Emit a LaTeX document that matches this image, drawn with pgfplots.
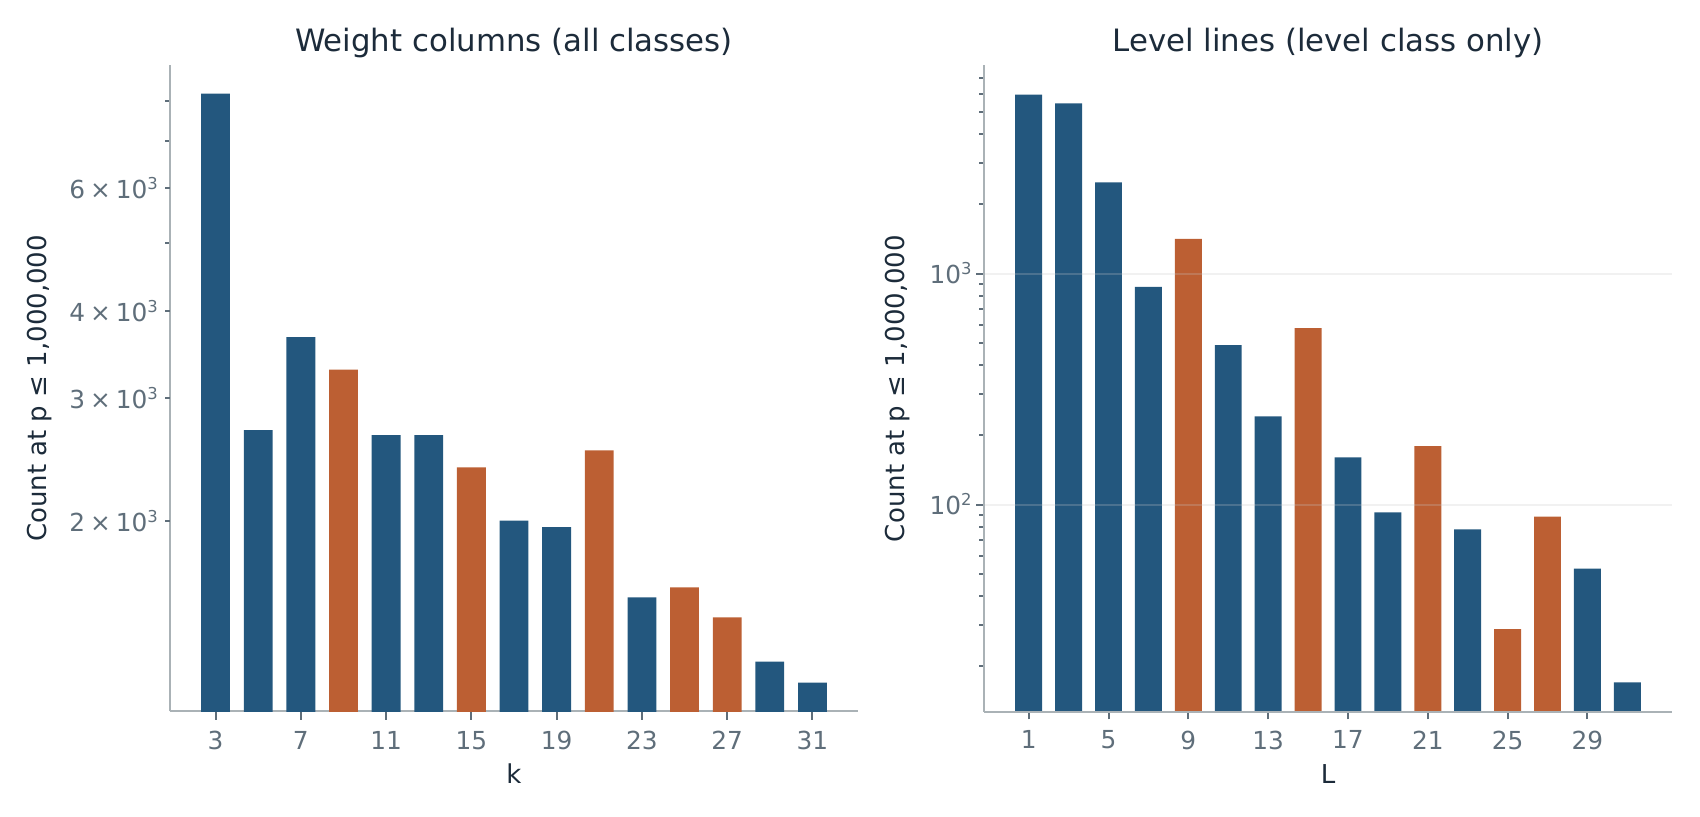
\documentclass[border=0pt]{standalone}
\usepackage{fontspec}
\setmainfont{DejaVu Sans}
\usepackage{pgfplots}
\usepackage{pgfplotstable}
\pgfplotsset{compat=1.18}
\definecolor{barblue}{RGB}{35,87,126}
\definecolor{barorange}{RGB}{188,95,51}
\definecolor{spinecol}{RGB}{170,178,182}
\definecolor{tickcol}{RGB}{95,110,122}
\definecolor{textcol}{RGB}{28,43,58}
\newcommand{\tl}{\fontsize{12.4}{14}\selectfont}
\newcommand{\supr}[1]{\raisebox{4.5pt}{\fontsize{8.2}{9}\selectfont #1}}
\newcommand{\sci}[1]{#1\hspace{0.2em}×\hspace{0.2em}10\supr{3}}
\pgfplotstableread{
x y
3 8195
5 2700
7 3670
11 2655
13 2655
17 2002
19 1960
23 1555
29 1258
31 1174
}\leftblue
\pgfplotstableread{
x y
9 3295
15 2388
21 2525
25 1607
27 1456
}\leftorange
\pgfplotstableread{
x y
1 5950
3 5450
5 2480
7 875
11 490
13 241
17 160
19 92.4
23 78
29 52.8
31 17
}\rightblue
\pgfplotstableread{
x y
9 1414
15 580
21 179
25 28.9
27 88.6
}\rightorange
\begin{document}
\begin{tikzpicture}
\useasboundingbox (0,0) rectangle (850pt,408pt);
\begin{axis}[ymode=log, ybar,
  /pgf/number format/assume math mode=true,
  scale only axis, width=344pt, height=323pt, anchor=south west,
  at={(85pt,52.25pt)},
  axis x line=bottom, axis y line=left,
  axis line style={-, spinecol, line width=1pt},
  tick align=outside, major tick length=2.3pt, minor tick length=2.3pt,
  tick style={tickcol, line width=1pt},
  ticklabel style={font=\tl, text=tickcol},
  xticklabel style={anchor=north, inner sep=0pt, yshift=-5.4pt},
  yticklabel style={anchor=east, inner sep=0pt, xshift=-3.6pt},
  ylabel style={font=\fontsize{13}{15}\selectfont, text=textcol, anchor=center, at={(axis description cs:-0.189,0.5)}},
  xlabel style={font=\fontsize{13}{15}\selectfont, text=textcol, anchor=center, at={(axis description cs:0.5,-0.0967)}},
  title style={font=\fontsize{15.4}{18}\selectfont, text=textcol, anchor=center, at={(axis description cs:0.5,1.0155)}},
  bar width=1.35, enlargelimits=false,
  xmin=0.86, xmax=33.14, ymin=1067, ymax=8990,
  xtick=\empty,
  extra x ticks={3,7,...,31},
  extra x tick style={major tick length=4.2pt, xmajorgrids=false},
  ytick={5000,7000,8000},
  yticklabels={},
  extra y ticks={2000,3000,4000,6000},
  extra y tick labels={\sci{2},\sci{3},\sci{4},\sci{6}},
  extra y tick style={major tick length=2.3pt, ymajorgrids=false},
  title={Weight columns (all classes)},
  xlabel={k},
  ylabel={Count at p ≤ 1,000,000},
]
\addplot[fill=barblue, draw=none, bar shift=0pt] table[x=x,y=y] {\leftblue};
\addplot[fill=barorange, draw=none, bar shift=0pt] table[x=x,y=y] {\leftorange};
\end{axis}
\begin{axis}[ymode=log, ybar,
  /pgf/number format/assume math mode=true,
  scale only axis, width=344pt, height=323pt, anchor=south west,
  at={(492pt,52.25pt)}, axis on top,
  axis x line=bottom, axis y line=left,
  axis line style={-, spinecol, line width=1pt},
  tick align=outside, major tick length=4pt, minor tick length=2.3pt,
  tick style={tickcol, line width=1pt},
  ticklabel style={font=\tl, text=tickcol},
  xticklabel style={anchor=north, inner sep=0pt, yshift=-5.4pt},
  yticklabel style={anchor=east, inner sep=0pt, xshift=-2pt},
  ylabel style={font=\fontsize{13}{15}\selectfont, text=textcol, anchor=center, at={(axis description cs:-0.125,0.5)}},
  xlabel style={font=\fontsize{13}{15}\selectfont, text=textcol, anchor=center, at={(axis description cs:0.5,-0.0967)}},
  title style={font=\fontsize{15.4}{18}\selectfont, text=textcol, anchor=center, at={(axis description cs:0.5,1.0155)}},
  bar width=1.35, enlargelimits=false,
  xmin=-1.24, xmax=33.24, ymin=12.7, ymax=7960,
  xtick={1,5,...,29},
  ytick={100,1000},
  yticklabels={10\supr{2},10\supr{3}},
  minor ytick={20,30,40,50,60,70,80,90,200,300,400,500,600,700,800,900,2000,3000,4000,5000,6000,7000},
  ymajorgrids, major grid style={color=gray!45, opacity=0.25, line width=1pt},
  title={Level lines (level class only)},
  xlabel={L},
  ylabel={Count at p ≤ 1,000,000},
]
\addplot[fill=barblue, draw=none, bar shift=0pt] table[x=x,y=y] {\rightblue};
\addplot[fill=barorange, draw=none, bar shift=0pt] table[x=x,y=y] {\rightorange};
\end{axis}
\end{tikzpicture}
\end{document}
